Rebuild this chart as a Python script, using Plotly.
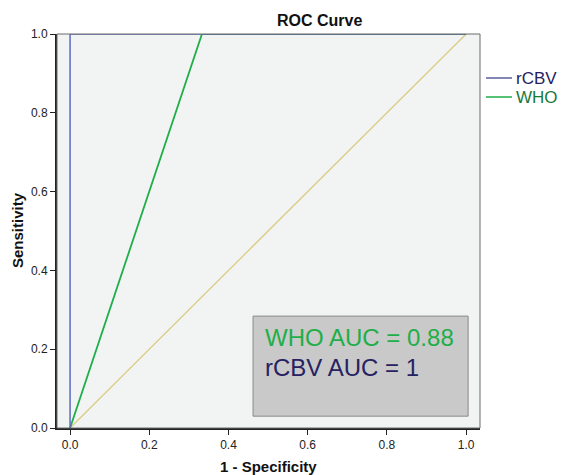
import plotly.graph_objects as go

# Data
ref_x = [0.0, 1.0]
ref_y = [0.0, 1.0]
rcbv_fpr = [0.0, 0.0, 1.0]
rcbv_tpr = [0.0, 1.0, 1.0]
who_fpr = [0.0, 0.333, 1.0]
who_tpr = [0.0, 1.0, 1.0]
tick_vals = [0.0, 0.2, 0.4, 0.6, 0.8, 1.0]
tick_text = ["0.0", "0.2", "0.4", "0.6", "0.8", "1.0"]
auc_who = 0.88
auc_rcbv = 1

FONT = "Liberation Sans, Arial"
W, H = 563, 475
L, R, T, B = 57, 83, 34, 47
pw, ph = W - L - R, H - T - B

def px_x(p):  # pixel -> paper x
    return (p - L) / pw

def px_y(p):  # pixel -> paper y
    return (H - B - p) / ph

fig = go.Figure()
fig.add_trace(go.Scatter(x=ref_x, y=ref_y, mode="lines",
                         line=dict(color="#d9cd84", width=1.3), showlegend=False, hoverinfo="skip"))
fig.add_trace(go.Scatter(x=who_fpr, y=who_tpr, mode="lines", name="WHO",
                         line=dict(color="#1fae48", width=1.8), showlegend=False))
fig.add_trace(go.Scatter(x=rcbv_fpr, y=rcbv_tpr, mode="lines", name="rCBV",
                         line=dict(color="#5a6cc4", width=1.5), showlegend=False))

# AUC box
fig.add_shape(type="rect", xref="x", yref="y", x0=0.462, x1=1.005, y0=0.03, y1=0.284,
              fillcolor="#c9c9c9", line=dict(color="#8a8a8a", width=1), layer="above")
fig.add_annotation(xref="paper", yref="paper", x=px_x(263), y=px_y(337), xanchor="left",
                   yanchor="middle", text=f"WHO AUC = {auc_who}", showarrow=False,
                   font=dict(family=FONT, size=24, color="#1fae48"))
fig.add_annotation(xref="paper", yref="paper", x=px_x(263), y=px_y(367), xanchor="left",
                   yanchor="middle", text=f"rCBV AUC = {auc_rcbv}", showarrow=False,
                   font=dict(family=FONT, size=24, color="#262262"))

# thin border top/right
fig.add_shape(type="rect", xref="paper", yref="paper", x0=0, x1=1, y0=0, y1=1,
              line=dict(color="#6b6b6b", width=1), layer="above")

# manual legend
legend_items = [("rCBV", "#5a5f9c", "#262262", 78), ("WHO", "#1fae48", "#1a7a3a", 97)]
for name, lc, tc, yp in legend_items:
    fig.add_shape(type="line", xref="paper", yref="paper", x0=px_x(486), x1=px_x(512),
                  y0=px_y(yp), y1=px_y(yp), line=dict(color=lc, width=1.5))
    fig.add_annotation(xref="paper", yref="paper", x=px_x(514), y=px_y(yp), xanchor="left",
                       yanchor="middle", text=name, showarrow=False,
                       font=dict(family=FONT, size=17, color=tc))

# titles
fig.add_annotation(xref="paper", yref="paper", x=px_x(319), y=px_y(20), xanchor="center",
                   yanchor="middle", text="<b>ROC Curve</b>", showarrow=False,
                   font=dict(family=FONT, size=16, color="#111"))
fig.add_annotation(xref="paper", yref="paper", x=px_x(268), y=px_y(466), xanchor="center",
                   yanchor="middle", text="<b>1 - Specificity</b>", showarrow=False,
                   font=dict(family=FONT, size=15, color="#111"))
fig.add_annotation(xref="paper", yref="paper", x=px_x(17), y=px_y(230), xanchor="center",
                   yanchor="middle", text="<b>Sensitivity</b>", showarrow=False, textangle=-90,
                   font=dict(family=FONT, size=15, color="#111"))

fig.update_layout(
    width=W, height=H,
    margin=dict(l=L, r=R, t=T, b=B, autoexpand=False),
    paper_bgcolor="white", plot_bgcolor="#f2f3f3",
    font=dict(family=FONT, size=12, color="#222"),
    showlegend=False,
)
fig.update_xaxes(range=[-0.033, 1.035], tickvals=tick_vals, ticktext=tick_text,
                 showgrid=False, zeroline=False, showline=True, linecolor="#222", linewidth=2,
                 ticks="outside", ticklen=5, tickcolor="#222", automargin=False)
fig.update_yaxes(range=[0.0, 1.0], tickvals=tick_vals, ticktext=tick_text,
                 showgrid=False, zeroline=False, showline=True, linecolor="#222", linewidth=2,
                 ticks="outside", ticklen=5, tickcolor="#222", automargin=False)

fig.write_html("out.html", config={"displayModeBar": False},
               post_script="document.body.style.margin='0';document.body.style.overflow='hidden';")
